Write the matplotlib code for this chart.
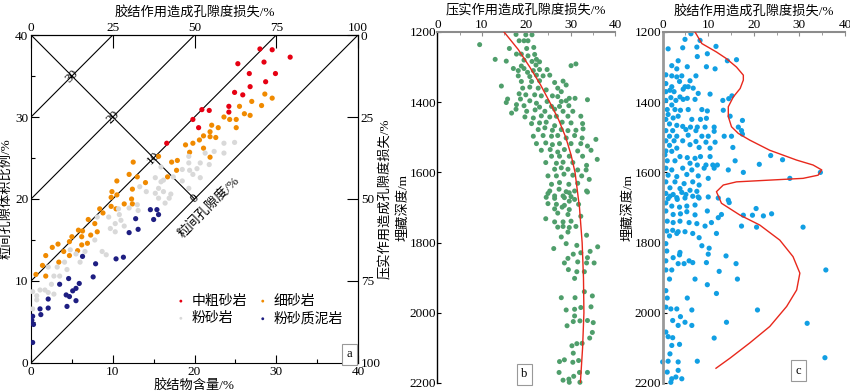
import matplotlib
matplotlib.use("Agg")
import matplotlib.pyplot as plt
from matplotlib.ticker import MultipleLocator

plt.rcParams['font.family'] = ['Liberation Serif', 'Noto Sans CJK SC']
plt.rcParams['font.size'] = 9.5
plt.rcParams['axes.unicode_minus'] = False

# ---- panel a: cement content (x) vs intergranular volume (y) ----
coarse_pts = [(28.0, 38.3), (29.5, 38.2), (31.7, 37.3), (25.3, 36.5), (28.5, 36.7),
              (26.7, 35.3), (29.9, 35.3), (28.7, 34.3), (26.8, 33.7), (24.9, 33.0),
              (25.9, 32.7), (24.2, 31.3), (24.2, 30.6), (20.9, 30.9), (21.8, 30.8),
              (19.8, 29.7), (20.5, 28.7), (16.6, 26.8)]
fine_pts = [(28.6, 32.8), (29.5, 32.3), (27.0, 31.9), (28.2, 31.4), (25.5, 31.3),
            (26.1, 30.4), (26.8, 30.2), (23.6, 30.0), (24.3, 29.7), (25.1, 29.7),
            (22.1, 29.0), (22.9, 28.7), (25.1, 28.7), (21.9, 28.2), (21.1, 27.7),
            (21.9, 27.6), (22.6, 27.5), (20.6, 27.2), (19.8, 26.8), (18.9, 26.6),
            (21.1, 26.2), (19.4, 25.7), (21.9, 25.1), (15.6, 25.2), (12.5, 24.5),
            (17.2, 24.5), (17.9, 24.7), (17.8, 23.5), (16.7, 22.7), (12.0, 23.0),
            (13.0, 22.7), (10.5, 22.2), (14.0, 22.0), (12.4, 21.2), (9.9, 20.9),
            (10.5, 20.5), (9.8, 20.2), (12.3, 20.0), (12.4, 19.4), (9.8, 19.1),
            (10.4, 18.8), (11.4, 19.4), (8.4, 18.8), (8.8, 18.3), (7.0, 17.5),
            (7.8, 17.0), (6.3, 16.1), (5.8, 16.2), (8.1, 16.0), (5.0, 15.4),
            (4.7, 14.8), (6.2, 15.4), (7.3, 15.6), (6.9, 14.6), (6.2, 14.4),
            (3.3, 14.5), (2.6, 14.1), (4.0, 13.6), (5.7, 13.7), (4.7, 13.1),
            (1.8, 13.1), (3.4, 12.3), (1.4, 11.9), (1.8, 10.6), (0.6, 10.8)]
silt_pts = [(24.9, 26.9), (23.6, 26.8), (22.4, 25.8), (23.6, 25.6), (21.3, 25.6),
            (19.3, 25.2), (21.8, 24.2), (20.7, 24.4), (19.3, 24.4), (15.9, 23.9),
            (20.3, 23.7), (18.5, 23.6), (19.4, 23.5), (19.8, 23.0), (20.7, 22.6),
            (17.4, 22.7), (15.2, 22.6), (16.2, 22.3), (18.5, 22.2), (15.9, 22.1),
            (19.3, 21.3), (13.3, 21.5), (15.6, 21.3), (16.2, 20.9), (17.1, 20.6),
            (15.2, 20.7), (14.1, 20.9), (15.6, 20.1), (16.9, 20.1), (16.4, 19.5),
            (13.0, 19.3), (12.0, 18.9), (10.7, 18.8), (10.8, 18.1), (13.1, 18.6),
            (9.5, 17.8), (11.0, 17.4), (10.3, 17.0), (9.7, 16.4), (11.4, 16.7),
            (10.3, 16.0), (8.1, 17.8), (7.8, 15.0), (8.7, 13.6), (9.2, 13.2),
            (6.6, 13.6), (5.5, 13.3), (4.8, 13.8), (6.0, 12.3), (4.1, 12.3),
            (4.4, 11.4), (3.2, 11.7), (2.1, 11.7), (3.5, 10.6), (2.8, 10.6),
            (2.5, 9.6), (1.7, 8.9), (1.1, 8.9), (2.1, 8.6), (2.8, 8.4),
            (0.2, 8.7), (0.7, 8.2), (0.7, 7.7), (0.2, 6.6)]
mud_pts = [(14.6, 18.7), (15.4, 18.7), (15.6, 18.1), (15.0, 17.5), (12.8, 17.6),
           (13.1, 16.3), (12.0, 15.9), (11.3, 12.9), (10.4, 12.7), (6.3, 13.0),
           (7.9, 12.1), (7.6, 10.5), (4.6, 10.3), (3.5, 9.6), (5.9, 9.7),
           (5.5, 9.1), (5.1, 8.8), (4.3, 8.3), (4.7, 8.1), (5.5, 7.6),
           (2.1, 7.8), (4.4, 6.9), (1.1, 6.6), (2.1, 6.7), (1.2, 5.9),
           (0.2, 5.7), (0.1, 5.2), (0.3, 4.7), (0.2, 2.5)]
rock_names = ["中粗砂岩", "细砂岩", "粉砂岩", "粉砂质泥岩"]
rock_colors = ["#e60012", "#f08a00", "#d9d9d9", "#1e1e82"]
porosity_levels = [30, 20, 10, 0]

# ---- panel b: compaction loss vs depth ----
comp_pts = [(17.7, 1207), (19.9, 1208), (21.3, 1208), (9.5, 1236), (18.4, 1225), (19.5, 1225),
            (20.4, 1225), (16.2, 1247), (20.1, 1247), (21.7, 1244), (17.8, 1263), (18.9, 1263),
            (20.4, 1268), (21.9, 1264), (22.3, 1278), (13.0, 1278), (15.5, 1283), (19.5, 1280),
            (21.3, 1284), (23.0, 1285), (22.2, 1294), (31.2, 1291), (30.1, 1296), (18.9, 1297),
            (17.1, 1304), (18.2, 1310), (19.5, 1304), (20.3, 1315), (21.6, 1310), (23.0, 1307),
            (24.7, 1307), (18.2, 1325), (20.8, 1327), (22.3, 1323), (23.8, 1325), (25.3, 1323),
            (18.9, 1341), (21.2, 1341), (23.0, 1339), (28.3, 1340), (26.4, 1344), (29.0, 1351),
            (14.4, 1354), (19.2, 1360), (20.8, 1357), (22.7, 1360), (24.5, 1365), (27.1, 1360),
            (27.9, 1370), (18.4, 1376), (19.9, 1379), (21.9, 1379), (23.4, 1382), (25.9, 1382),
            (27.1, 1384), (29.7, 1389), (31.0, 1389), (33.8, 1393), (15.8, 1391), (15.5, 1401),
            (18.7, 1391), (20.8, 1396), (22.3, 1403), (24.7, 1398), (27.9, 1398), (29.0, 1396),
            (17.8, 1407), (19.5, 1410), (23.0, 1414), (25.7, 1412), (27.5, 1412), (29.6, 1410),
            (17.7, 1420), (16.7, 1431), (20.1, 1426), (22.0, 1422), (24.2, 1426), (26.4, 1420),
            (28.3, 1426), (30.5, 1426), (19.7, 1442), (21.6, 1445), (23.4, 1439), (25.3, 1442),
            (26.8, 1440), (29.4, 1440), (32.3, 1440), (21.2, 1461), (23.0, 1459), (24.5, 1457),
            (26.4, 1467), (28.1, 1457), (30.1, 1459), (32.7, 1461), (22.7, 1478), (24.2, 1473),
            (25.9, 1480), (27.9, 1478), (29.4, 1481), (31.2, 1480), (32.8, 1476), (21.6, 1497),
            (23.8, 1495), (25.7, 1497), (27.1, 1495), (29.0, 1502), (30.9, 1495), (35.7, 1506),
            (32.6, 1502), (22.3, 1518), (24.4, 1516), (25.9, 1521), (27.5, 1518), (30.1, 1518),
            (32.3, 1518), (33.8, 1525), (23.4, 1537), (25.4, 1535), (27.1, 1542), (28.6, 1535),
            (31.6, 1539), (34.6, 1537), (25.7, 1554), (27.5, 1554), (29.7, 1554), (32.7, 1554),
            (36.0, 1563), (24.4, 1572), (26.8, 1574), (28.3, 1571), (30.5, 1572), (33.6, 1580),
            (26.4, 1591), (27.9, 1587), (29.4, 1591), (31.6, 1593), (33.5, 1593), (24.9, 1610),
            (26.8, 1610), (28.5, 1605), (30.5, 1608), (32.5, 1610), (34.2, 1620), (25.7, 1634),
            (27.5, 1629), (29.6, 1634), (31.6, 1631), (25.3, 1653), (27.4, 1648), (29.0, 1655),
            (30.9, 1653), (33.6, 1653), (26.4, 1667), (28.3, 1667), (30.1, 1669), (24.9, 1660),
            (29.7, 1658), (33.8, 1656), (24.5, 1671), (26.4, 1674), (28.6, 1672), (30.9, 1677),
            (24.9, 1689), (26.8, 1691), (28.6, 1694), (29.7, 1682), (31.8, 1691), (26.4, 1704),
            (28.1, 1699), (29.7, 1706), (27.1, 1716), (29.4, 1720), (24.4, 1732), (26.4, 1741),
            (28.3, 1741), (30.1, 1739), (32.3, 1725), (28.3, 1754), (31.2, 1754), (29.7, 1757),
            (27.1, 1756), (27.9, 1784), (29.4, 1770), (33.6, 1779), (29.0, 1803), (31.4, 1808),
            (26.2, 1817), (34.4, 1825), (36.1, 1812), (30.6, 1833), (32.3, 1829), (29.4, 1845),
            (28.6, 1858), (31.6, 1855), (33.8, 1843), (33.6, 1858), (35.3, 1858), (29.5, 1877),
            (31.4, 1883), (33.1, 1883), (30.9, 1902), (33.1, 1940), (27.9, 1957), (31.0, 1957),
            (34.9, 1952), (29.0, 1992), (30.9, 1990), (32.3, 1985), (34.6, 1983), (30.9, 2009),
            (29.2, 2037), (30.6, 2025), (32.1, 2023), (33.8, 2022), (35.1, 2028), (34.9, 2056),
            (34.3, 2072), (30.3, 2094), (31.4, 2088), (32.6, 2087), (30.6, 2115), (27.5, 2139),
            (28.6, 2134), (30.5, 2141), (31.8, 2136), (27.4, 2170), (30.7, 2181), (32.0, 2170),
            (33.8, 2170), (28.3, 2192), (29.6, 2189), (29.7, 2198), (32.1, 2198)]
comp_trend_depth = [1200, 1250, 1300, 1350, 1400, 1450, 1500, 1550, 1600, 1700, 1800, 1900, 2000, 2100, 2200]
comp_trend_loss = [15.0, 18.2, 20.8, 23.2, 25.3, 27.3, 28.9, 30.1, 31.0, 32.0, 32.6, 32.9, 33.0, 32.7, 32.2]

# ---- panel c: cementation loss vs depth ----
cem_pts = [(6.2, 1205), (4.9, 1221), (8.2, 1224), (1.2, 1248), (4.4, 1245), (7.5, 1243),
           (11.7, 1241), (9.8, 1262), (7.6, 1270), (14.2, 1282), (16.2, 1279), (3.4, 1282),
           (2.0, 1296), (3.1, 1305), (5.4, 1299), (9.6, 1299), (11.5, 1305), (0.7, 1322),
           (2.0, 1325), (3.1, 1328), (4.2, 1325), (7.3, 1325), (3.7, 1341), (6.0, 1339),
           (0.7, 1347), (2.0, 1356), (4.9, 1356), (6.7, 1360), (1.6, 1366), (0.7, 1370),
           (2.5, 1370), (4.5, 1363), (5.6, 1356), (7.8, 1375), (10.4, 1377), (1.8, 1387),
           (3.8, 1385), (5.4, 1389), (0.7, 1395), (2.9, 1395), (7.1, 1392), (4.5, 1392),
           (13.2, 1395), (14.5, 1390), (15.2, 1382), (2.0, 1408), (1.0, 1421), (2.7, 1421),
           (3.9, 1423), (5.6, 1421), (8.6, 1421), (9.8, 1425), (13.3, 1423), (1.2, 1435),
           (0.7, 1449), (2.3, 1445), (3.4, 1440), (6.4, 1449), (8.3, 1449), (9.6, 1446),
           (14.8, 1440), (17.5, 1452), (1.5, 1462), (3.1, 1466), (4.4, 1469), (6.1, 1471),
           (7.6, 1471), (9.3, 1471), (11.3, 1471), (0.7, 1481), (2.2, 1481), (5.1, 1478),
           (7.3, 1481), (11.3, 1483), (16.6, 1471), (17.3, 1481), (17.5, 1491), (1.5, 1497),
           (3.1, 1497), (5.6, 1494), (8.6, 1497), (10.0, 1497), (13.5, 1497), (15.1, 1497),
           (0.7, 1510), (2.5, 1510), (4.4, 1510), (7.3, 1512), (9.5, 1514), (11.5, 1514),
           (1.5, 1523), (3.1, 1531), (6.0, 1521), (8.0, 1529), (10.4, 1531), (15.4, 1529),
           (0.7, 1539), (2.0, 1540), (3.8, 1555), (0.5, 1550), (5.4, 1558), (7.1, 1560),
           (8.3, 1555), (10.4, 1555), (15.9, 1567), (23.7, 1552), (26.3, 1564), (1.0, 1567),
           (2.7, 1567), (6.0, 1574), (7.6, 1579), (9.5, 1579), (11.0, 1579), (12.0, 1579),
           (21.2, 1577), (0.7, 1588), (2.0, 1593), (4.4, 1588), (6.4, 1593), (9.1, 1588),
           (11.3, 1588), (14.4, 1593), (17.7, 1600), (34.6, 1600), (27.9, 1617), (1.2, 1608),
           (3.1, 1612), (5.3, 1606), (7.8, 1610), (10.0, 1617), (0.7, 1627), (2.7, 1627),
           (4.7, 1632), (6.6, 1627), (8.0, 1636), (1.6, 1644), (3.8, 1646), (6.0, 1651),
           (7.5, 1654), (0.7, 1660), (2.3, 1663), (4.2, 1657), (4.9, 1673), (1.2, 1675),
           (3.2, 1677), (8.0, 1673), (12.2, 1673), (14.4, 1679), (1.6, 1668), (3.1, 1672),
           (5.1, 1663), (6.6, 1668), (7.8, 1670), (10.0, 1670), (14.6, 1686), (0.7, 1687),
           (2.0, 1696), (3.7, 1699), (5.3, 1696), (7.1, 1693), (0.7, 1710), (2.3, 1720),
           (3.9, 1718), (5.3, 1712), (7.1, 1721), (9.8, 1710), (17.7, 1722), (19.7, 1722),
           (20.5, 1703), (22.1, 1724), (23.9, 1718), (12.2, 1729), (12.9, 1720), (10.7, 1743),
           (9.3, 1753), (17.3, 1753), (20.6, 1756), (30.8, 1756), (1.0, 1739), (2.3, 1743),
           (3.8, 1739), (5.8, 1743), (7.5, 1746), (0.9, 1767), (2.2, 1765), (3.4, 1769),
           (4.9, 1769), (6.6, 1774), (11.8, 1774), (1.5, 1781), (3.1, 1774), (8.0, 1786),
           (8.6, 1809), (0.7, 1803), (0.9, 1824), (3.8, 1828), (3.7, 1835), (10.2, 1816),
           (10.0, 1833), (2.3, 1843), (0.7, 1852), (3.4, 1860), (4.7, 1860), (5.8, 1852),
           (6.6, 1857), (9.6, 1857), (13.9, 1838), (16.1, 1860), (0.7, 1878), (2.0, 1878),
           (1.5, 1904), (7.1, 1904), (12.4, 1882), (16.4, 1904), (35.8, 1878), (9.8, 1920),
           (11.8, 1945), (0.7, 1937), (1.0, 1958), (5.4, 1958), (0.7, 1984), (1.8, 1989),
           (3.1, 1989), (3.9, 2011), (6.4, 1992), (2.2, 2022), (4.9, 2027), (6.4, 2036),
           (3.4, 2036), (14.0, 2027), (20.8, 1992), (31.7, 2030), (0.7, 2055), (1.2, 2068),
           (2.2, 2071), (11.3, 2072), (2.0, 2093), (3.7, 2090), (1.6, 2117), (1.2, 2138),
           (0.0, 2140), (3.4, 2140), (7.6, 2138), (35.6, 2128), (1.0, 2169), (3.4, 2164),
           (2.0, 2188), (2.9, 2183), (4.2, 2188), (1.8, 2198)]
cem_trend_depth = [1200, 1233, 1257, 1276, 1300, 1323, 1337, 1361, 1385, 1413, 1441, 1470,
                   1489, 1508, 1537, 1565, 1579, 1593, 1608, 1617, 1622, 1627, 1636, 1655,
                   1688, 1722, 1750, 1793, 1840, 1887, 1935, 1982, 2039, 2086, 2129, 2158]
cem_trend_loss = [7.1, 8.6, 11.8, 14.0, 16.2, 17.7, 17.7, 17.0, 15.5, 14.4, 14.4, 15.1,
                  16.6, 19.1, 23.5, 29.4, 33.0, 34.9, 34.1, 30.8, 23.5, 16.2, 13.3, 11.8,
                  12.9, 17.0, 21.3, 25.7, 28.6, 30.1, 29.4, 27.2, 23.5, 19.1, 14.8, 11.7]

depth_ticks = [1200, 1400, 1600, 1800, 2000, 2200]

fig = plt.figure(figsize=(8.5, 3.92), dpi=100)

# ================= panel a =================
ax = fig.add_axes([0.0365, 0.074, 0.3847, 0.8367])
ax.set_xlim(0, 40)
ax.set_ylim(0, 40)
for lev in porosity_levels:
    ax.plot([0, 40 - lev], [lev, 40], color='black', lw=0.8)
ax.plot([0, 20], [40, 20], color='black', lw=0.8)
for lev in porosity_levels:
    xi = 20 - lev / 2
    ax.text(xi, 40 - xi, str(lev), rotation=45, ha='center', va='center')
ax.text(21.8, 19.0, "粒间孔隙度/%", rotation=45, ha='center', va='center')

groups = [coarse_pts, fine_pts, silt_pts, mud_pts]
handles = []
for name, col, pts in zip(rock_names, rock_colors, groups):
    h = ax.scatter([p[0] for p in pts], [p[1] for p in pts], s=14, color=col,
                   edgecolors='none', label=name, zorder=3)
    handles.append(h)

ax.xaxis.set_major_locator(MultipleLocator(10))
ax.xaxis.set_minor_locator(MultipleLocator(5))
ax.yaxis.set_major_locator(MultipleLocator(10))
ax.yaxis.set_minor_locator(MultipleLocator(5))
ax.tick_params(which='major', direction='in', length=6, width=0.8, pad=2)
ax.tick_params(which='minor', direction='in', length=3, width=0.8)
ax.set_xlabel("胶结物含量/%", labelpad=1)
ax.set_ylabel("粒间孔隙体积比例/%", labelpad=2)

top = ax.secondary_xaxis('top', functions=(lambda v: v * 2.5, lambda v: v / 2.5))
top.set_ticks([0, 25, 50, 75, 100])
top.tick_params(direction='in', length=9, width=0.8, pad=1)
top.set_xlabel("胶结作用造成孔隙度损失/%", labelpad=4)

right = ax.secondary_yaxis('right', functions=(lambda v: (40 - v) * 2.5, lambda v: 40 - v / 2.5))
right.set_ticks([0, 25, 50, 75, 100])
right.tick_params(direction='in', length=8, width=0.8, pad=2)
right.set_ylabel("压实作用造成孔隙度损失/%", labelpad=-1)

order = [0, 2, 1, 3]
ax.legend([handles[i] for i in order], [rock_names[i] for i in order],
          ncol=2, loc='upper left', bbox_to_anchor=(0.42, 0.225), frameon=False,
          markerscale=0.55, handletextpad=0.3, columnspacing=0.6, labelspacing=0.3,
          handlelength=1.0, borderaxespad=0, fontsize=10)
ax.text(0.974, 0.027, "a", transform=ax.transAxes, ha='center', va='center', fontsize=9,
        bbox=dict(boxstyle='square,pad=0.35', fc='white', ec='#999999', lw=0.8))

# ================= panels b, c =================
def depth_axes(rect, spine_color, spine_w):
    a = fig.add_axes(rect)
    a.set_xlim(0, 40)
    a.set_ylim(2200, 1200)
    a.xaxis.tick_top()
    a.xaxis.set_label_position('top')
    a.xaxis.set_major_locator(MultipleLocator(10))
    a.xaxis.set_minor_locator(MultipleLocator(5))
    a.set_yticks(depth_ticks)
    a.spines['right'].set_visible(False)
    a.spines['bottom'].set_visible(False)
    a.spines['top'].set_color('#8c8c8c')
    a.spines['top'].set_linewidth(1.5)
    a.spines['left'].set_color(spine_color)
    a.spines['left'].set_linewidth(spine_w)
    a.tick_params(axis='x', which='major', direction='in', length=3, color='#8c8c8c', pad=1)
    a.tick_params(axis='x', which='minor', direction='in', length=2, color='#8c8c8c')
    a.tick_params(axis='y', direction='in', length=3, pad=1)
    a.set_ylabel("埋藏深度/m", labelpad=0)
    return a

axb = depth_axes([0.5147, 0.023, 0.2088, 0.8954], 'black', 1.0)
axb.scatter([p[0] for p in comp_pts], [p[1] for p in comp_pts], s=13, color='#4f9e6b',
            edgecolors='none', zorder=2, clip_on=False)
axb.plot(comp_trend_loss, comp_trend_depth, color='#e8281c', lw=1.0, zorder=3)
axb.set_xlabel("压实作用造成孔隙度损失/%", labelpad=3)
axb.text(0.49, 0.025, "b", transform=axb.transAxes, ha='center', va='center', fontsize=9,
         bbox=dict(boxstyle='square,pad=0.35', fc='white', ec='#999999', lw=0.8))

axc = depth_axes([0.7796, 0.023, 0.2145, 0.8954], '#999999', 2.0)
axc.scatter([p[0] for p in cem_pts], [p[1] for p in cem_pts], s=14, color='#119fe3',
            edgecolors='none', zorder=2, clip_on=False)
axc.plot(cem_trend_loss, cem_trend_depth, color='#e8281c', lw=1.0, zorder=3)
axc.set_xlabel("胶结作用造成孔隙度损失/%", labelpad=3)
axc.text(0.745, 0.035, "c", transform=axc.transAxes, ha='center', va='center', fontsize=9,
         bbox=dict(boxstyle='square,pad=0.35', fc='white', ec='#999999', lw=0.8))

fig.savefig("out.png", dpi=100)
